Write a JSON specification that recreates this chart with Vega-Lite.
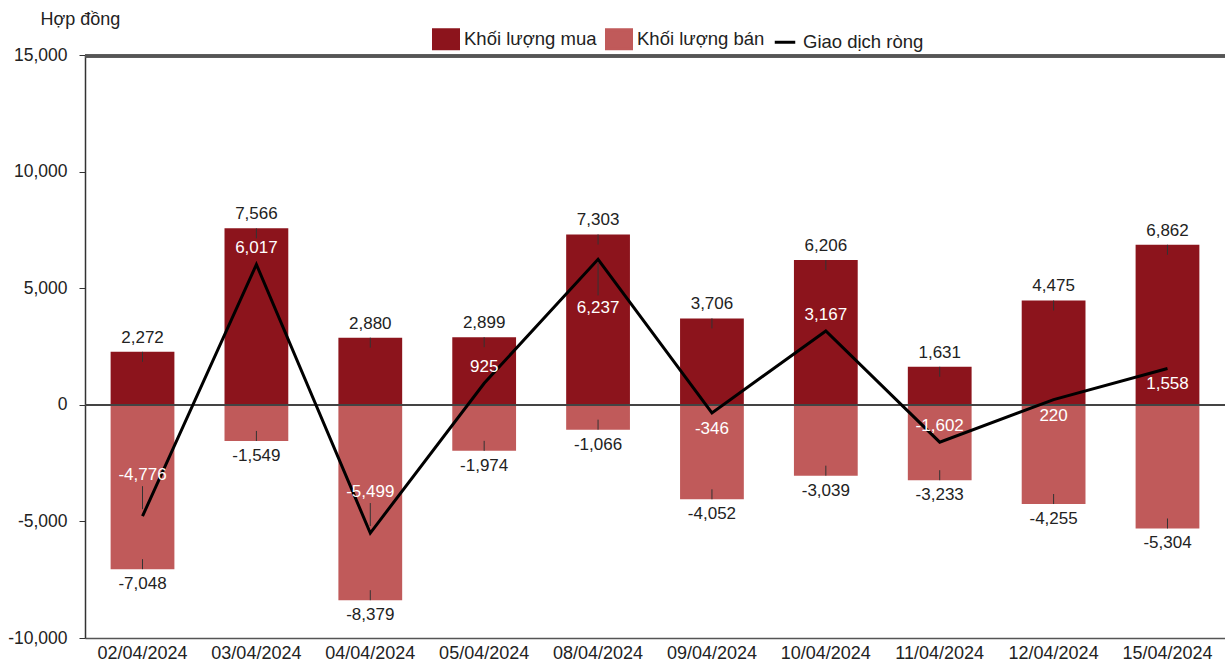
{
  "$schema": "https://vega.github.io/schema/vega-lite/v6.json",
  "width": 1140,
  "height": 583,
  "autosize": {"type": "none"},
  "padding": {"left": 85, "top": 55, "right": 0, "bottom": 25},
  "config": {
    "view": {"stroke": null},
    "font": "Liberation Sans",
    "locale": {"number": {"decimal": ".", "thousands": ",", "grouping": [3], "currency": ["$", ""], "minus": "-"}}
  },
  "data": {
    "values": [
      {"date": "02/04/2024", "mua": 2272, "ban": -7048, "rong": -4776},
      {"date": "03/04/2024", "mua": 7566, "ban": -1549, "rong": 6017},
      {"date": "04/04/2024", "mua": 2880, "ban": -8379, "rong": -5499},
      {"date": "05/04/2024", "mua": 2899, "ban": -1974, "rong": 925},
      {"date": "08/04/2024", "mua": 7303, "ban": -1066, "rong": 6237},
      {"date": "09/04/2024", "mua": 3706, "ban": -4052, "rong": -346},
      {"date": "10/04/2024", "mua": 6206, "ban": -3039, "rong": 3167},
      {"date": "11/04/2024", "mua": 1631, "ban": -3233, "rong": -1602},
      {"date": "12/04/2024", "mua": 4475, "ban": -4255, "rong": 220},
      {"date": "15/04/2024", "mua": 6862, "ban": -5304, "rong": 1558}
    ]
  },
  "encoding": {
    "x": {
      "field": "date", "type": "nominal", "sort": null,
      "scale": {"paddingInner": 0.44, "paddingOuter": 0.225},
      "axis": {"title": null, "labelAngle": 0, "labelFontSize": 18, "labelColor": "#222", "labelPadding": 6, "ticks": false, "domain": true, "domainColor": "#555", "domainWidth": 1.5}
    }
  },
  "layer": [
    {
      "mark": {"type": "bar"},
      "encoding": {
        "y": {
          "field": "mua", "type": "quantitative",
          "scale": {"domain": [-10000, 15000], "nice": false, "zero": false},
          "axis": {
            "title": "Hợp đồng", "titleAngle": 0, "titleAlign": "left", "titleBaseline": "middle",
            "titleX": -45, "titleY": -36, "titleFontSize": 18, "titleFontWeight": "normal", "titleColor": "#222",
            "values": [-10000, -5000, 0, 5000, 10000, 15000], "format": ",.0f",
            "labelFontSize": 17.5, "labelColor": "#222", "labelPadding": 12,
            "tickSize": 6, "tickColor": "#333", "domainColor": "#333", "domainWidth": 1.5, "grid": false
          }
        },
        "color": {
          "datum": "Khối lượng mua",
          "scale": {"domain": ["Khối lượng mua", "Khối lượng bán", "Giao dịch ròng"], "range": ["#8C141C", "#C05A5A", "#000000"]},
          "legend": {
            "title": null, "orient": "none", "direction": "horizontal", "legendX": 349, "legendY": -28,
            "labelFontSize": 18.5, "labelColor": "#222", "symbolSize": 420, "columnPadding": 3, "labelOffset": 6,
            "symbolStrokeWidth": 3,
            "encode": {
              "symbols": {
                "update": {
                  "shape": {"signal": "datum.value === 'Giao dịch ròng' ? 'stroke' : 'M-1.22,-0.93L1.22,-0.93L1.22,0.93L-1.22,0.93Z'"},
                  "fill": {"signal": "datum.value === 'Giao dịch ròng' ? 'transparent' : (datum.value === 'Khối lượng mua' ? '#8C141C' : '#C05A5A')"},
                  "stroke": {"signal": "datum.value === 'Giao dịch ròng' ? '#000000' : 'transparent'"},
                  "strokeWidth": {"value": 3},
                  "opacity": {"value": 1}
                }
              }
            }
          }
        }
      }
    },
    {
      "mark": {"type": "bar"},
      "encoding": {
        "y": {"field": "ban", "type": "quantitative"},
        "color": {"datum": "Khối lượng bán"}
      }
    },
    {
      "mark": {"type": "rule", "color": "#444", "strokeWidth": 1.5},
      "encoding": {"y": {"datum": 0}, "x": {"value": 0}, "x2": {"value": 1140}}
    },
    {
      "mark": {"type": "rule", "color": "#555", "strokeWidth": 2.5, "yOffset": 1},
      "encoding": {"y": {"datum": 15000}, "x": {"value": 0}, "x2": {"value": 1140}}
    },
    {
      "mark": {"type": "line", "strokeWidth": 3, "strokeJoin": "miter"},
      "encoding": {
        "y": {"field": "rong", "type": "quantitative"},
        "color": {"datum": "Giao dịch ròng"}
      }
    },
    {
      "mark": {"type": "rule", "color": "#333", "strokeWidth": 1, "y2Offset": 10},
      "encoding": {"y": {"field": "mua", "type": "quantitative"}, "y2": {"field": "mua"}}
    },
    {
      "mark": {"type": "rule", "color": "#333", "strokeWidth": 1, "y2Offset": -10},
      "encoding": {"y": {"field": "ban", "type": "quantitative"}, "y2": {"field": "ban"}}
    },
    {
      "mark": {"type": "text", "fontSize": 17, "color": "#222", "baseline": "middle", "dy": -14},
      "encoding": {"y": {"field": "mua", "type": "quantitative"}, "text": {"field": "mua", "type": "quantitative", "format": ",.0f"}}
    },
    {
      "mark": {"type": "text", "fontSize": 17, "color": "#222", "baseline": "middle", "dy": 15},
      "encoding": {"y": {"field": "ban", "type": "quantitative"}, "text": {"field": "ban", "type": "quantitative", "format": ",.0f"}}
    },
    {
      "transform": [{"filter": {"field": "date", "oneOf": ["02/04/2024", "04/04/2024"]}}],
      "mark": {"type": "text", "fontSize": 17, "color": "#ffffff", "baseline": "middle", "dy": -41},
      "encoding": {"y": {"field": "rong", "type": "quantitative"}, "text": {"field": "rong", "type": "quantitative", "format": ",.0f"}}
    },
    {
      "transform": [{"filter": {"field": "date", "oneOf": ["03/04/2024", "05/04/2024", "10/04/2024", "11/04/2024"]}}],
      "mark": {"type": "text", "fontSize": 17, "color": "#ffffff", "baseline": "middle", "dy": -16},
      "encoding": {"y": {"field": "rong", "type": "quantitative"}, "text": {"field": "rong", "type": "quantitative", "format": ",.0f"}}
    },
    {
      "transform": [{"filter": {"field": "date", "oneOf": ["09/04/2024", "12/04/2024", "15/04/2024"]}}],
      "mark": {"type": "text", "fontSize": 17, "color": "#ffffff", "baseline": "middle", "dy": 16},
      "encoding": {"y": {"field": "rong", "type": "quantitative"}, "text": {"field": "rong", "type": "quantitative", "format": ",.0f"}}
    },
    {
      "transform": [{"filter": {"field": "date", "oneOf": ["08/04/2024"]}}],
      "mark": {"type": "text", "fontSize": 17, "color": "#ffffff", "baseline": "middle", "dy": 49},
      "encoding": {"y": {"field": "rong", "type": "quantitative"}, "text": {"field": "rong", "type": "quantitative", "format": ",.0f"}}
    },
    {
      "transform": [{"filter": {"field": "date", "oneOf": ["02/04/2024", "04/04/2024"]}}],
      "mark": {"type": "rule", "color": "#333", "strokeWidth": 1, "yOffset": -7, "y2Offset": -30},
      "encoding": {"y": {"field": "rong", "type": "quantitative"}, "y2": {"field": "rong"}}
    },
    {
      "transform": [{"filter": {"field": "date", "oneOf": ["08/04/2024"]}}],
      "mark": {"type": "rule", "color": "#333", "strokeWidth": 1, "yOffset": 3, "y2Offset": 36},
      "encoding": {"y": {"field": "rong", "type": "quantitative"}, "y2": {"field": "rong"}}
    }
  ]
}
